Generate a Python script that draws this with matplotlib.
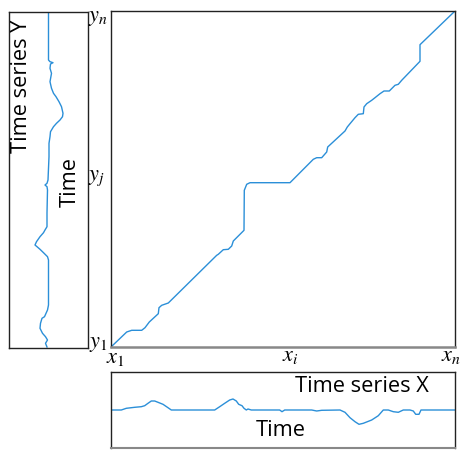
import matplotlib
matplotlib.use("Agg")
import matplotlib.pyplot as plt

plt.rcParams['mathtext.fontset'] = 'stix'
plt.rcParams['font.family'] = ['Open Sans', 'DejaVu Sans']

# warping path, in sample indices (x: 0..344, y: 0..336)
path_x = [0, 15.7, 20.7, 30.7, 34, 38.3, 47.3, 48, 50.7, 57.3, 105.7, 107.3, 112.3,
          117.3, 120.7, 122.3, 133, 133.3, 135.7, 139, 179, 202.3, 205.7, 210.7,
          215.7, 216.7, 234, 236.3, 239, 244, 247.3, 252.3, 253, 255.7, 260.7, 264,
          269, 273, 278.3, 284, 287.3, 290.7, 309, 309, 344]
path_y = [0, 15, 16.7, 16.7, 19.3, 25, 33.3, 39.3, 41.7, 44, 91.7, 92.7, 97.3,
          97.7, 101, 106, 116.7, 156.7, 162.7, 164.3, 164.3, 187.7, 189.3, 189.3,
          195, 200, 216, 220, 223.3, 229.3, 232.7, 233.3, 240, 243.3, 246.7, 249.3,
          253.3, 256, 256, 261.7, 262.7, 266.7, 285.7, 302.3, 336]

# time series X (bottom panel)
tx = [0, 10.3, 15.3, 23.7, 30.3, 33.7, 37, 40.3, 43.7, 47, 52, 57, 60.3, 103.7,
      108.7, 113.7, 118.7, 122, 125.3, 127.7, 131, 133, 135.3, 137, 140.3, 168.7,
      171, 173.7, 200.7, 205.7, 210.7, 229, 234, 239, 244, 248, 252.3, 260.7,
      267.3, 272.3, 277.3, 282.3, 287.3, 292.3, 299, 302.3, 304.7, 308, 310, 344]
vx = [0, 0, 1.7, 2.7, 3.3, 4.3, 6.7, 9, 9, 7.7, 5.7, 2.3, 0, 0,
      3.3, 6.7, 10, 11, 9, 5.7, 4.3, 1.7, 0, 1, 0, 0,
      -1.7, 0, 0, -1, -0.3, 0, -2.3, -7.7, -11.7, -14.3, -13.3, -10,
      -5.7, 0, 0, -1.7, -2.3, 0, 0, -1, -4.3, -4.3, 0, 0]

# time series Y (left panel)
ty = [1, 4.7, 8, 11.3, 14.7, 19.7, 24.7, 29.7, 31.3, 38, 43, 88, 91.3, 95.3, 98.7,
      101.3, 103, 106.3, 111.3, 115.3, 118, 121.3, 135, 158, 161.3, 163, 164.7, 168,
      191.3, 204.7, 211.3, 216.3, 221.3, 224.7, 228, 231.3, 234.7, 241.3, 246.3,
      251.3, 254.7, 259.7, 266.3, 274.7, 279.7, 284, 285.3, 286.3, 288, 336]
vy = [-1.5, -3, -1, -3, -6, -8.5, -8, -6.5, -4, -1, 0, 0, -1, -5, -8.5,
      -11.5, -13.5, -12, -8.5, -5, -3.5, -1.5, -1.5, -1, -1.5, -3.5, -1.5, -0.5,
      0.5, 0.5, 1.5, 2, 5, 8, 11.5, 14, 14.5, 13, 10.5,
      7.5, 5, 3, 1.5, 3, 1.5, 2, 4.5, 1.5, 0, 0]

blue = '#2b8fd8'
W, H = 467, 463
fig = plt.figure(figsize=(W / 100, H / 100), dpi=100)


def box(l, t, r, b):
    return [l / W, 1 - b / H, (r - l) / W, (b - t) / H]


def clean(ax):
    ax.set_xticks([])
    ax.set_yticks([])
    for s in ax.spines.values():
        s.set_color('#222222')
        s.set_linewidth(1)


ax = fig.add_axes(box(111, 11, 455, 347))
ax.plot(path_x, path_y, color=blue, lw=1)
ax.set_xlim(0, 344)
ax.set_ylim(0, 336)
clean(ax)
ax.spines['bottom'].set_color('#888888')
ax.spines['bottom'].set_linewidth(1.8)

axl = fig.add_axes(box(9, 12, 88, 348))
axl.plot(vy, ty, color=blue, lw=1)
axl.set_xlim(-39.5, 39.5)
axl.set_ylim(0, 336)
clean(axl)

axb = fig.add_axes(box(111, 372, 455, 448))
axb.plot(tx, vx, color=blue, lw=1)
axb.set_xlim(0, 344)
axb.set_ylim(-38, 38)
clean(axb)
axb.spines['bottom'].set_color('#888888')
axb.spines['bottom'].set_linewidth(1.5)

fs = 15.7
fig.text(362 / W, 1 - 387 / H, 'Time series X', fontsize=fs, ha='center', va='center')
fig.text(281 / W, 1 - 431 / H, 'Time', fontsize=fs, ha='center', va='center')
fig.text(22 / W, 1 - 86 / H, 'Time series Y', fontsize=fs, ha='center', va='center', rotation=90)
fig.text(70 / W, 1 - 182 / H, 'Time', fontsize=fs, ha='center', va='center', rotation=90)

lf = 16
labels = [('$y_n$', 88, 18), ('$y_j$', 88, 178), ('$y_1$', 89, 343),
          ('$x_1$', 106, 357), ('$x_i$', 282, 356), ('$x_n$', 441, 356)]
for s, px, py in labels:
    fig.text(px / W, 1 - py / H, s, fontsize=lf, ha='left', va='center')

fig.savefig('out.png', dpi=100)
